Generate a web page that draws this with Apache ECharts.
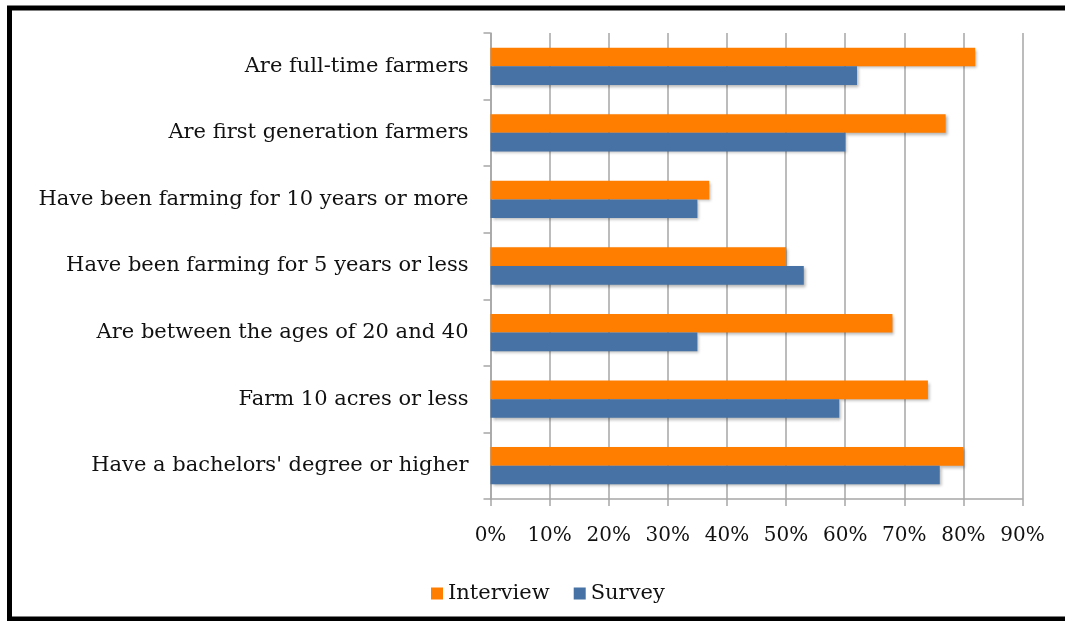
<!DOCTYPE html>
<html>
<head>
<meta charset="utf-8">
<script src="https://cdn.jsdelivr.net/npm/echarts@6/dist/echarts.min.js"></script>
<style>
  html, body { margin: 0; padding: 0; background: #fff; }
  #chart { width: 1065px; height: 621px; }
</style>
</head>
<body>
<div id="chart"></div>
<script>
// 数据
var categories = [
  'Are full-time farmers',
  'Are first generation farmers',
  'Have been farming for 10 years or more',
  'Have been farming for 5 years or less',
  'Are between the ages of 20 and 40',
  'Farm 10 acres or less',
  "Have a bachelors' degree or higher"
];
var interview = [82, 77, 37, 50, 68, 74, 80];
var survey = [62, 60, 35, 53, 35, 59, 76];
var xTicks = [0, 10, 20, 30, 40, 50, 60, 70, 80, 90];

var font = 'DejaVu Serif';
var chart = echarts.init(document.getElementById('chart'));

var barShadow = {
  shadowBlur: 3,
  shadowOffsetX: 2,
  shadowOffsetY: 2,
  shadowColor: 'rgba(0,0,0,0.3)'
};

var option = {
  animation: false,
  textStyle: { fontFamily: font },
  // 外框
  graphic: [{
    type: 'rect',
    shape: { x: 9.5, y: 8, width: 1070, height: 611 },
    style: { fill: 'none', stroke: '#000', lineWidth: 5 },
    z: 100
  }],
  grid: { left: 490.5, top: 33, width: 532, height: 466, containLabel: false },
  legend: {
    bottom: 12,
    left: 426,
    itemWidth: 12,
    itemHeight: 12,
    itemGap: 24,
    icon: 'rect',
    textStyle: { fontFamily: font, fontSize: 21, color: '#111' },
    data: ['Interview', 'Survey']
  },
  xAxis: {
    type: 'value',
    min: 0,
    max: 90,
    interval: 10,
    axisLine: { show: true, lineStyle: { color: '#a6a6a6', width: 1.5 } },
    axisTick: { show: true, length: 7, lineStyle: { color: '#a6a6a6', width: 1.5 } },
    splitLine: { show: true, lineStyle: { color: '#a6a6a6', width: 1.5 } },
    axisLabel: {
      margin: 27,
      fontFamily: font,
      fontSize: 20,
      color: '#111',
      formatter: function (v) { return xTicks.indexOf(v) >= 0 ? v + '%' : ''; }
    }
  },
  yAxis: {
    type: 'category',
    inverse: true,
    data: categories,
    axisLine: { show: true, lineStyle: { color: '#a6a6a6', width: 1.5 } },
    axisTick: { show: true, length: 7, lineStyle: { color: '#a6a6a6', width: 1.5 } },
    axisLabel: { margin: 22, fontFamily: font, fontSize: 21, color: '#111' }
  },
  series: [
    {
      name: 'Interview',
      type: 'bar',
      data: interview,
      barGap: '0%',
      barCategoryGap: '44%',
      itemStyle: Object.assign({ color: '#FF7E00' }, barShadow)
    },
    {
      name: 'Survey',
      type: 'bar',
      data: survey,
      itemStyle: Object.assign({ color: '#4672A5' }, barShadow)
    }
  ]
};

chart.setOption(option);
</script>
</body>
</html>
